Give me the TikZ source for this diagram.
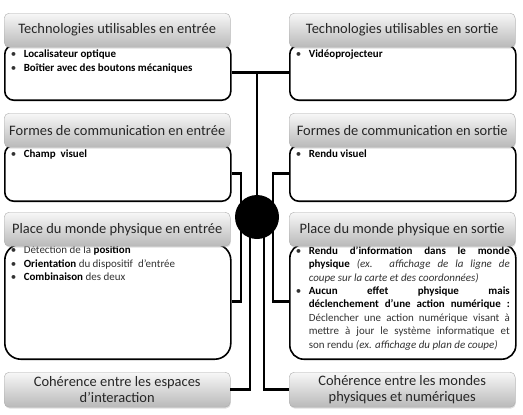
\documentclass[tikz,border=0pt]{standalone}
\usepackage{fontspec}
\setmainfont{Carlito}
\usepackage{tikz}
\usetikzlibrary{positioning, backgrounds, shadows}
\usepackage{xcolor}

% bullet item with hanging indent
\newcommand{\puce}[1]{\par\hangindent=13bp\hangafter=1\noindent\makebox[13bp][l]{\textbullet}#1}

\begin{document}
\begin{tikzpicture}[x=1bp, y=-1bp,
    headbox/.style={draw=gray!65, rounded corners=5bp, top color=gray!6, bottom color=gray!55,
        minimum width=226bp, minimum height=34bp, inner sep=0pt, anchor=north west,
        align=center, text=black!85, font=\fontsize{14.5}{16}\selectfont,
        drop shadow={opacity=0.25, shadow xshift=0.6bp, shadow yshift=-1.4bp}},
    bodybox/.style={draw=black, line width=1.6bp, rounded corners=9bp, fill=white,
        minimum width=226bp, inner xsep=0pt, inner ysep=5bp, anchor=north west,
        text=black!80, font=\fontsize{11}{13.5}\selectfont},
    link/.style={line width=2.6bp},
    hubdot/.style={circle, fill=black, minimum size=44bp, inner sep=0pt}]

    \useasboundingbox (0,0) rectangle (523,414);

    % Left column - input side
    \node[headbox] (techIn) at (4,13) {Technologies utilisables en entrée};
    \node[headbox] (formIn) at (4,113) {Formes de communication en entrée};
    \node[headbox] (placeIn) at (4,212) {Place du monde physique en entrée};
    \node[headbox, minimum height=35bp] (cohIn) at (4,372)
        {Cohérence entre les espaces\\d’interaction};

    % Right column - output side
    \node[headbox] (techOut) at (289,13) {Technologies utilisables en sortie};
    \node[headbox] (formOut) at (289,113) {Formes de communication en sortie};
    \node[headbox] (placeOut) at (289,212) {Place du monde physique en sortie};
    \node[headbox, minimum height=35bp] (cohOut) at (289,372)
        {Cohérence entre les mondes\\physiques et numériques};

    % Bodies, drawn behind the headers
    \begin{pgfonlayer}{background}
        \node[bodybox, below right=-3bp and 0bp of techIn.south west] (techInBody)
            {\parbox[t][45bp][t]{214bp}{%
                \puce{\textbf{\color{black}Localisateur optique}}%
                \puce{\textbf{\color{black}Boîtier avec des boutons mécaniques}}}};
        \node[bodybox, below right=-3bp and 0bp of formIn.south west] (formInBody)
            {\parbox[t][46bp][t]{214bp}{%
                \puce{\textbf{\color{black}Champ\ \ visuel}}}};
        \node[bodybox, rounded corners=16bp, inner ysep=2bp, below right=-3bp and 0bp of placeIn.south west] (placeInBody)
            {\parbox[t][111bp][t]{214bp}{%
                \puce{Détection de la \textbf{\color{black}position}}%
                \puce{\textbf{\color{black}Orientation} du dispositif\ \ d’entrée}%
                \puce{\textbf{\color{black}Combinaison} des deux}}};

        \node[bodybox, below right=-3bp and 0bp of techOut.south west] (techOutBody)
            {\parbox[t][45bp][t]{214bp}{%
                \puce{\textbf{\color{black}Vidéoprojecteur}}}};
        \node[bodybox, below right=-3bp and 0bp of formOut.south west] (formOutBody)
            {\parbox[t][46bp][t]{214bp}{%
                \puce{\textbf{\color{black}Rendu visuel}}}};
        \node[bodybox, rounded corners=14bp, inner ysep=2bp, below right=-3bp and 0bp of placeOut.south west] (placeOutBody)
            {\parbox[t][111bp][t]{214bp}{%
                \puce{\textbf{\color{black}Rendu d’information dans le monde}\linebreak
                    \textbf{\color{black}physique} \textit{(ex. affichage de la ligne de\linebreak
                    coupe sur la carte et des coordonnées)}}%
                \puce{\textbf{\color{black}Aucun effet physique mais\linebreak
                    déclenchement d’une action numérique :}\linebreak
                    Déclencher une action numérique visant à\linebreak
                    mettre à jour le système informatique et\linebreak
                    son rendu \textit{(ex. affichage du plan de coupe)}}}};
    \end{pgfonlayer}

    % Central hub
    \coordinate (hub) at (257,217);

    % Connectors
    \draw[link] (techInBody.east) -- (techOutBody.west);
    \draw[link] (hub) -- (hub |- techInBody.east);
    \draw[link] (formInBody.east) -| ([xshift=-16bp]hub);
    \draw[link] (formOutBody.west) -| ([xshift=16bp]hub);
    \draw[link] (placeInBody.east) -| ([xshift=-16bp]hub);
    \draw[link] (placeOutBody.west) -| ([xshift=16bp]hub);
    \draw[link] (cohIn.east) -| ([xshift=-7bp]hub);
    \draw[link] (cohOut.west) -| ([xshift=7bp]hub);

    \node[hubdot] (hubDot) at (hub) {};
\end{tikzpicture}
\end{document}
